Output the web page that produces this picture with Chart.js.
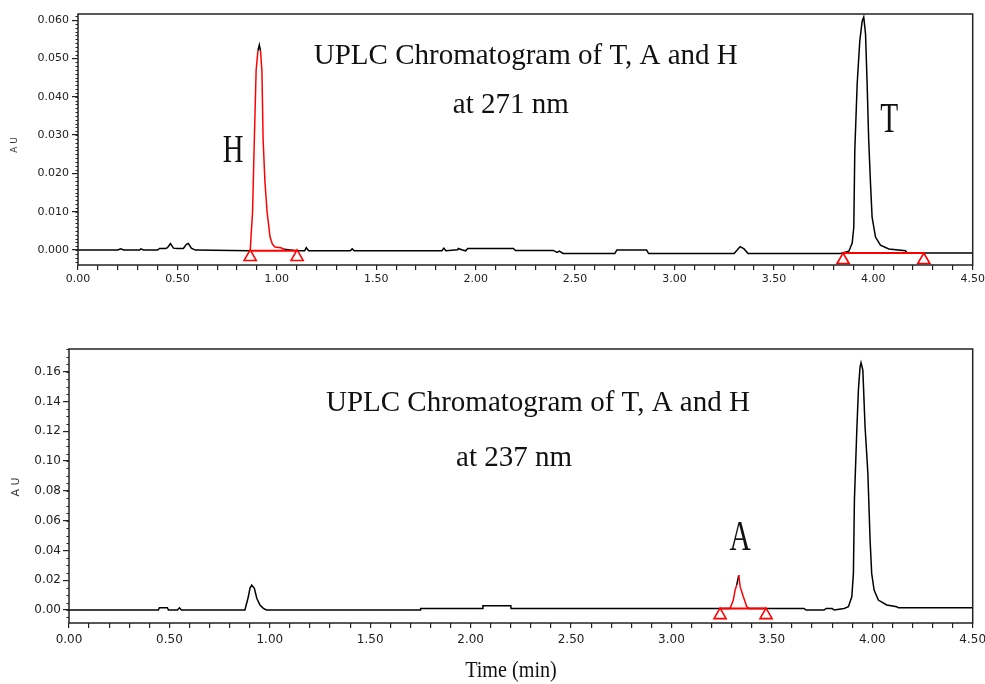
<!DOCTYPE html>
<html><head><meta charset="utf-8">
<script src="https://cdn.jsdelivr.net/npm/chart.js@4.4.1/dist/chart.umd.min.js"></script>
<style>
html,body{margin:0;padding:0;background:#fff;width:985px;height:684px;overflow:hidden}
#c1{position:absolute;left:0;top:0}
#c2{position:absolute;left:0;top:300px}
</style></head><body>
<canvas id="c1" width="985" height="300"></canvas>
<canvas id="c2" width="985" height="384"></canvas>
<script>
// ---------- DATA ----------
// 271 nm trace
const time271 = [0.00,0.20,0.215,0.23,0.31,0.316,0.33,0.40,0.41,0.44,0.45,0.465,0.48,0.50,0.53,0.545,0.555,0.57,0.59,
  0.866,0.878,0.887,0.896,0.905,0.912,0.918,0.925,0.931,0.940,0.951,0.966,0.978,0.991,1.02,1.037,
  1.10,1.14,1.148,1.16,1.37,1.379,1.39,1.83,1.84,1.85,1.91,1.913,1.93,1.95,1.96,2.19,2.20,2.39,2.41,2.42,2.44,
  2.70,2.71,2.86,2.87,3.30,3.32,3.33,3.35,3.37,3.835,3.877,3.894,3.902,3.907,3.919,3.932,3.944,3.952,3.961,
  3.969,3.977,3.986,3.994,4.011,4.036,4.078,4.162,4.17,4.50];
const au271 = [0,0,0.0003,0,0,0.0003,0,0,0.0004,0.0004,0.0006,0.0017,0.0005,0.0004,0.0004,0.0015,0.0017,0.0005,0,
  -0.0002,0.010,0.029,0.047,0.052,0.0535,0.052,0.0468,0.029,0.018,0.010,0.0034,0.0015,0.0008,0.0006,0.0002,
  -0.0002,-0.0002,0.0006,-0.0002,-0.0002,0.0003,-0.0002,-0.0002,0.0005,-0.0002,0.0001,0.0004,0.0001,-0.0002,0.0004,0.0004,-0.0001,-0.0001,-0.0006,-0.0003,-0.0009,
  -0.0009,0,0,-0.0009,-0.0009,0.0003,0.0009,0.0003,-0.0009,-0.0009,-0.0003,0.0018,0.006,0.026,0.0434,0.0545,0.0597,0.0608,0.0564,
  0.0434,0.0286,0.0174,0.0086,0.0034,0.0013,0.0003,-0.0002,-0.0008,-0.0008];
const peakH271 = [0.866, 1.037];          // red-coloured peak (H)
const tipH271 = 0.051;                     // black tip above this level
const integ271 = [[0.866, 1.102, -0.0002], [3.848, 4.254, -0.0008]];   // red integration baselines
const marks271 = [[0.866, -0.0018], [1.102, -0.0018], [3.848, -0.0026], [4.254, -0.0026]];

// 237 nm trace
const time237 = [0.00,0.445,0.45,0.49,0.495,0.54,0.55,0.56,0.876,0.893,0.901,0.91,0.923,0.935,0.951,0.965,0.976,0.985,
  1.75,1.751,2.06,2.061,2.20,2.201,3.292,3.308,3.317,3.325,3.335,3.342,3.358,3.375,3.385,3.66,3.67,3.76,3.77,3.80,3.81,3.86,
  3.881,3.898,3.906,3.911,3.923,3.931,3.939,3.944,3.953,3.964,3.978,3.989,3.997,4.009,4.030,4.072,4.122,4.13,4.50];
const au237 = [0,0,0.0015,0.0015,0,0,0.0015,0,0,0.0089,0.0146,0.0168,0.0146,0.0079,0.0034,0.0015,0.0005,0,
  0,0.0011,0.0011,0.0029,0.0029,0.0011,0.0011,0.0067,0.0134,0.0168,0.0235,0.0157,0.0089,0.0022,0.0011,0.0011,0,0,0.0011,0.0011,0,0.0011,
  0.0022,0.0089,0.0246,0.0739,0.121,0.148,0.163,0.166,0.161,0.123,0.0918,0.047,0.0246,0.0134,0.0067,0.0034,0.0022,0.0015,0.0015];
const peakA237 = [3.292, 3.385];
const tipA237 = 0.0168;
const integ237 = [[3.242, 3.471, 0.0011]];
const marks237 = [[3.242, -0.0034], [3.471, -0.0034]];

// axes
const yTicks271 = [0, 0.01, 0.02, 0.03, 0.04, 0.05, 0.06];
const yLabels271 = ['0.000','0.010','0.020','0.030','0.040','0.050','0.060'];
const yTicks237 = [0, 0.02, 0.04, 0.06, 0.08, 0.10, 0.12, 0.14, 0.16];
const yLabels237 = ['0.00','0.02','0.04','0.06','0.08','0.10','0.12','0.14','0.16'];
const xLabelValues = [0, 0.5, 1.0, 1.5, 2.0, 2.5, 3.0, 3.5, 4.0, 4.5];
const xLabels = ['0.00','0.50','1.00','1.50','2.00','2.50','3.00','3.50','4.00','4.50'];

const titleLine1 = 'UPLC Chromatogram of T, A and H';
const title271 = 'at 271 nm';
const title237 = 'at 237 nm';

// ---------- helpers ----------
const RED = '#ff0000', BLACK = '#000000';
const pts = (t, v) => t.map((x, i) => ({x, y: v[i]}));
function integPts(list) {
  const out = [];
  list.forEach((s, i) => { if (i) out.push({x: (s[0] + list[i-1][1]) / 2, y: null}); out.push({x: s[0], y: s[2]}, {x: s[1], y: s[2]}); });
  return out;
}
function segColor(range, tip) {
  return ctx => {
    const a = ctx.p0.parsed, b = ctx.p1.parsed;
    if (a.x >= range[0] - 1e-9 && b.x <= range[1] + 1e-9) {
      if (a.y >= tip && b.y >= tip) return BLACK;
      return RED;
    }
    return BLACK;
  };
}
const xTickVals = [];
for (let i = 0; i <= 45; i++) xTickVals.push(i / 10);

const frame = {
  id: 'frame',
  afterDraw(chart, args, o) {
    const {ctx, chartArea: a} = chart;
    const ys = chart.scales.y;
    ctx.save();
    ctx.strokeStyle = '#222'; ctx.lineWidth = 1.5;
    ctx.strokeRect(a.left, a.top, a.right - a.left, a.bottom - a.top);
    // minor y ticks
    ctx.lineWidth = 1.2;
    ctx.beginPath();
    for (let v = Math.ceil(ys.min / o.minor) * o.minor; v <= ys.max; v += o.minor) {
      const y = Math.round(ys.getPixelForValue(v)) + 0.5;
      ctx.moveTo(a.left - 2.5, y); ctx.lineTo(a.left, y);
    }
    ctx.stroke();
    // texts
    const xs = chart.scales.x;
    (o.texts || []).forEach(t => {
      const px = t.px !== undefined ? t.px : xs.getPixelForValue(t.x);
      const py = t.py !== undefined ? t.py : ys.getPixelForValue(t.y);
      ctx.save();
      ctx.translate(px, py);
      if (t.rot) ctx.rotate(t.rot);
      ctx.scale(t.sx || 1, 1);
      ctx.font = t.font;
      ctx.fillStyle = t.color || '#111';
      ctx.textAlign = 'center';
      ctx.textBaseline = t.base || 'alphabetic';
      ctx.fillText(t.text, 0, 0);
      ctx.restore();
    });
    ctx.restore();
  }
};

function makeChart(id, cfg) {
  const tickFont = {family: 'DejaVu Sans', size: cfg.tickSize};
  return new Chart(document.getElementById(id), {
    type: 'line',
    data: {
      datasets: [
        {data: cfg.marks.map(m => ({x: m[0], y: m[1]})), showLine: false, pointStyle: 'triangle', pointRadius: 7,
         pointBorderColor: RED, pointBackgroundColor: '#fff', pointBorderWidth: 1.6},
        {data: integPts(cfg.integ), borderColor: RED, borderWidth: 2, pointRadius: 0, spanGaps: false},
        {data: pts(cfg.t, cfg.v), borderColor: BLACK, borderWidth: 1.5, pointRadius: 0, tension: 0,
         segment: {borderColor: segColor(cfg.peak, cfg.tip)}}
      ]
    },
    options: {
      responsive: false, animation: false, events: [],
      layout: {padding: {left: 0, right: 12.3, top: cfg.padTop, bottom: 0}},
      plugins: {legend: {display: false}, tooltip: {enabled: false},
        frame: {minor: cfg.minor, texts: cfg.texts}},
      scales: {
        x: {type: 'linear', min: 0, max: 4.5,
          afterFit: s => { s.height = cfg.xH; s.paddingLeft = 0; s.paddingRight = 0; },
          afterBuildTicks: s => { s.ticks = xTickVals.map(v => ({value: v})); },
          border: {display: false},
          grid: {drawOnChartArea: false, drawTicks: true, tickLength: 5, color: '#222', lineWidth: 1.2},
          ticks: {autoSkip: false, maxRotation: 0, padding: cfg.xPad, color: '#222', font: tickFont,
            callback: v => { const i = xLabelValues.findIndex(x => Math.abs(x - v) < 1e-6); return i >= 0 ? xLabels[i] : ''; }}
        },
        y: {type: 'linear', min: cfg.ymin, max: cfg.ymax,
          afterFit: s => { s.width = cfg.yW; s.paddingTop = 0; s.paddingBottom = 0; },
          afterBuildTicks: s => { s.ticks = cfg.yT.map(v => ({value: v})); },
          border: {display: false},
          grid: {drawOnChartArea: false, drawTicks: true, tickLength: 6, color: '#222', lineWidth: 1.2},
          ticks: {autoSkip: false, padding: cfg.yPad, color: '#222', font: tickFont,
            callback: v => { const i = cfg.yT.findIndex(x => Math.abs(x - v) < 1e-9); return i >= 0 ? cfg.yL[i] : ''; }}
        }
      }
    },
    plugins: [frame]
  });
}

const serif = 'Liberation Serif, Times New Roman, serif';
makeChart('c1', {
  t: time271, v: au271, peak: peakH271, tip: tipH271, integ: integ271, marks: marks271,
  ymin: -0.0039, ymax: 0.0616, yT: yTicks271, yL: yLabels271, minor: 0.001,
  padTop: 14, xH: 35, yW: 78, xPad: 3, yPad: 3, tickSize: 11,
  texts: [
    {text: titleLine1, x: 2.252, y: 0.0486, font: '29px ' + serif},
    {text: title271, x: 2.177, y: 0.0358, font: '29px ' + serif},
    {text: 'H', x: 0.78, y: 0.0229, font: '40px ' + serif, sx: 0.72},
    {text: 'T', x: 4.08, y: 0.0307, font: '42px ' + serif, sx: 0.7},
    {text: 'A U', px: 14.5, py: 145, rot: -Math.PI / 2, base: 'middle', font: '9px DejaVu Sans', color: '#333'}
  ]
});
makeChart('c2', {
  t: time237, v: au237, peak: peakA237, tip: tipA237, integ: integ237, marks: marks237,
  ymin: -0.0087, ymax: 0.1752, yT: yTicks237, yL: yLabels237, minor: 0.005,
  padTop: 49, xH: 61, yW: 69, xPad: 5, yPad: 2, tickSize: 12,
  texts: [
    {text: titleLine1, x: 2.335, y: 0.1336, font: '29px ' + serif},
    {text: title237, x: 2.216, y: 0.0967, font: '29px ' + serif},
    {text: 'A', x: 3.342, y: 0.0403, font: '42px ' + serif, sx: 0.7},
    {text: 'A U', px: 16.5, py: 187, rot: -Math.PI / 2, base: 'middle', font: '11px DejaVu Sans', color: '#333'},
    {text: 'Time (min)', px: 511, py: 377, font: '24px ' + serif, sx: 0.84}
  ]
});
</script>
</body></html>
